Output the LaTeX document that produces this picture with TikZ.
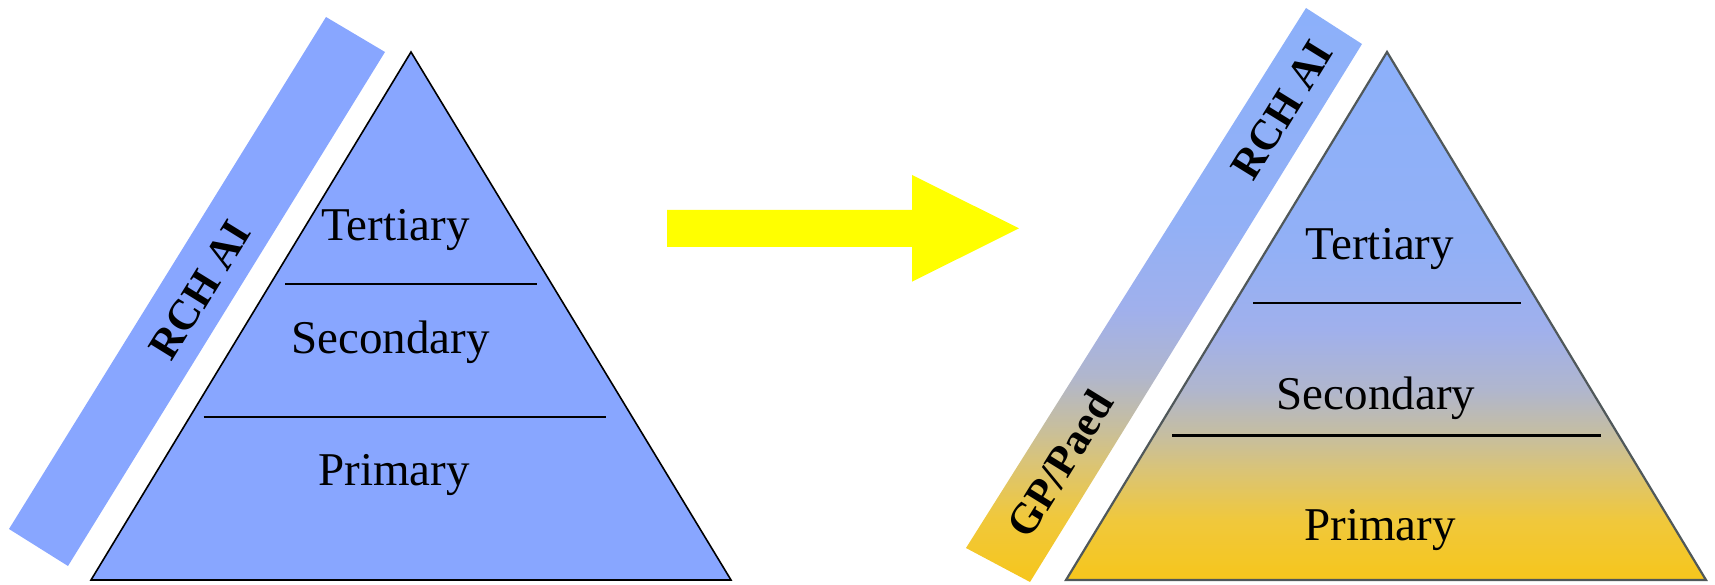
\documentclass[tikz,border=0pt]{standalone}
\usepackage{fontspec}
\setmainfont{Liberation Serif}
\definecolor{lblue}{RGB}{136,166,255}
\definecolor{arrowyellow}{RGB}{255,255,0}
\definecolor{edgegray}{RGB}{80,88,90}
\definecolor{g0}{RGB}{246,198,28}
\definecolor{g1}{RGB}{240,200,60}
\definecolor{g2}{RGB}{218,196,118}
\definecolor{g3}{RGB}{198,190,160}
\definecolor{g4}{RGB}{176,182,205}
\definecolor{g5}{RGB}{160,176,236}
\definecolor{g6}{RGB}{146,176,246}
\definecolor{g7}{RGB}{140,176,250}
\pgfdeclareverticalshading{pyrshade}{100bp}{color(0bp)=(g0); color(25bp)=(g0); color(30.7bp)=(g1); color(35.4bp)=(g2); color(38.7bp)=(g3); color(43bp)=(g4); color(48.7bp)=(g5); color(56.3bp)=(g6); color(75bp)=(g7); color(100bp)=(g7)}
\begin{document}
\begin{tikzpicture}[x=1pt,y=-1pt,
  tierline/.style={line width=2.2pt},
  lbl/.style={font=\fontsize{47}{56}\selectfont, inner sep=0pt, anchor=base},
  bandlbl/.style={font=\bfseries\fontsize{43}{50}\selectfont, inner sep=0pt, rotate=58.3}]
\useasboundingbox (0,0) rectangle (1715,585);
% ---------- left pyramid ----------
\coordinate (LA) at (411,52);
\coordinate (LBL) at (91,580);
\coordinate (LBR) at (731,580);
\fill[lblue] (326,17) coordinate (LB1) -- (385,52) coordinate (LB2) -- (68,566) coordinate (LB3) -- (9,529) coordinate (LB4) -- cycle;
\filldraw[fill=lblue, draw=black, line width=1.6pt, line join=miter] (LA) -- (LBL) -- (LBR) -- cycle;
\coordinate (L1a) at (285,284.3);
\coordinate (L1b) at (537,284.3);
\coordinate (L2a) at (203.6,416.8);
\coordinate (L2b) at (606,416.8);
\draw[tierline] (L1a) -- (L1b);
\draw[tierline] (L2a) -- (L2b);
\node[lbl] (lter) at (395.5,240.6) {Tertiary};
\node[lbl] (lsec) at (390.7,353.7) {Secondary};
\node[lbl] (lpri) at (394,485) {Primary};
\node[bandlbl] (lrch) at (200,290) {RCH AI};
% ---------- arrow ----------
\fill[arrowyellow] (667,210) coordinate (A1) -- (912,210) -- (912,175) -- (1019,228.3) coordinate (A2) -- (912,281.7) -- (912,247) -- (667,247) -- cycle;
% ---------- right pyramid ----------
\coordinate (RA) at (1387,52);
\coordinate (RBL) at (1066,580);
\coordinate (RBR) at (1706,580);
\shade[shading=pyrshade] (1306,8) coordinate (RB1) -- (1362,44) coordinate (RB2) -- (1030,582) coordinate (RB3) -- (966,548) coordinate (RB4) -- cycle;
\shade[shading=pyrshade] (RA) -- (RBL) -- (RBR) -- cycle;
\draw[edgegray, line width=2.2pt, line join=miter] (RA) -- (RBL) -- (RBR) -- cycle;
\coordinate (R1a) at (1253,303);
\coordinate (R1b) at (1521,303);
\coordinate (R2a) at (1172,435.4);
\coordinate (R2b) at (1601,435.4);
\draw[tierline] (R1a) -- (R1b);
\draw[tierline] (R2a) -- (R2b);
\node[lbl] (rter) at (1380,260) {Tertiary};
\node[lbl] (rsec) at (1376,409.7) {Secondary};
\node[lbl] (rpri) at (1380,540) {Primary};
\node[bandlbl] (rrch) at (1282,110) {RCH AI};
\node[bandlbl] (rgp) at (1060,464) {GP/Paed};
\end{tikzpicture}
\end{document}
